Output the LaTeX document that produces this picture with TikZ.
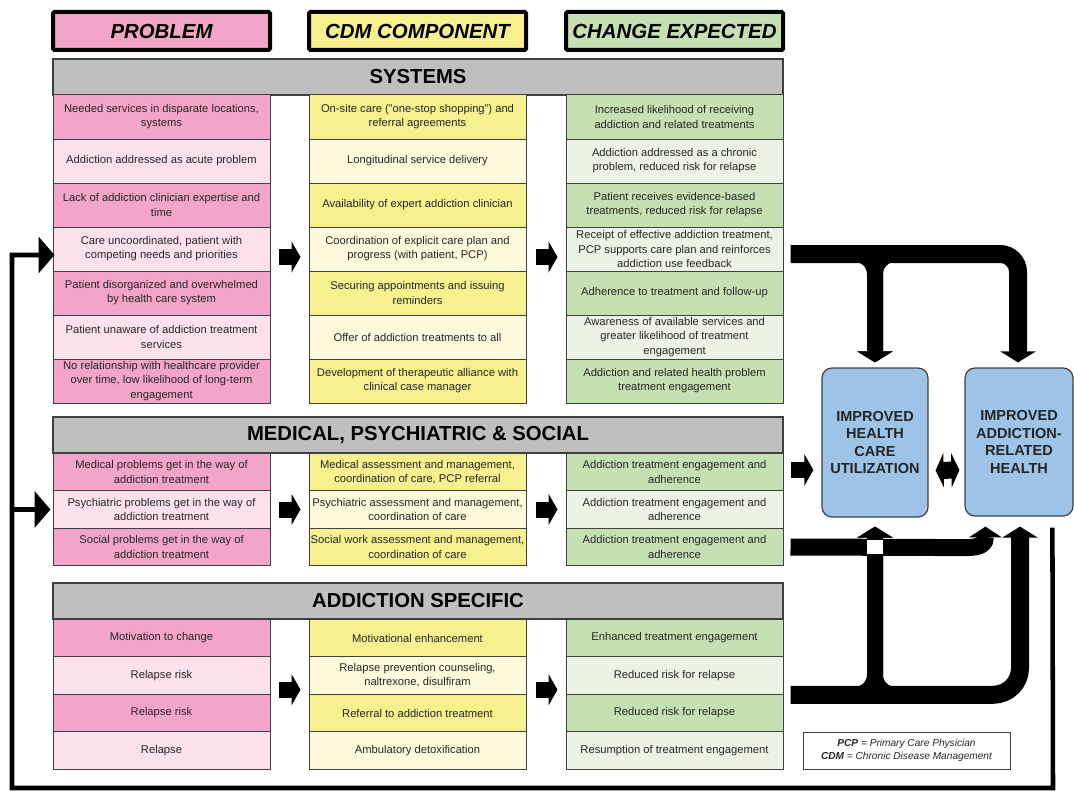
\documentclass[tikz,border=0pt]{standalone}
\usepackage{fontspec}
\setmainfont{Liberation Sans}
\usetikzlibrary{arrows.meta,calc}
\definecolor{pinkD}{HTML}{F2A5C8}
\definecolor{pinkL}{HTML}{FCE1ED}
\definecolor{yelD}{HTML}{F6F18E}
\definecolor{yelL}{HTML}{FDFBDB}
\definecolor{grnD}{HTML}{C5E0B3}
\definecolor{grnL}{HTML}{EBF4E4}
\definecolor{barGray}{HTML}{BFBFBF}
\definecolor{boxBlue}{HTML}{9DC3E6}
\definecolor{lineGray}{HTML}{404040}
\definecolor{txt}{HTML}{262626}
\begin{document}
\begin{tikzpicture}[x=0.75pt,y=-0.75pt,
  cell/.style={draw=lineGray, line width=0.75pt, minimum width=162.75pt, inner sep=1pt,
    align=center, text=txt, font=\fontsize{8.4}{10.6}\selectfont},
  srow/.style={cell, minimum height=33pt},
  mrow/.style={cell, minimum height=28.25pt},
  arow/.style={cell, minimum height=28.125pt},
  hdr/.style={draw=black, line width=3pt, minimum width=162.75pt, minimum height=28.5pt,
    rounded corners=1pt, font=\fontsize{15.3}{18}\selectfont\bfseries\itshape},
  bar/.style={draw=lineGray, line width=0.9pt, fill=barGray, minimum width=547.5pt,
    minimum height=27pt, font=\fontsize{15.2}{18}\selectfont\bfseries},
  bluebox/.style={draw=lineGray, line width=0.9pt, fill=boxBlue, rounded corners=7.5pt,
    align=center, font=\fontsize{10.9}{13.2}\selectfont\bfseries, text=txt},
  blk/.style={line width=12pt, -{Triangle[width=23.25pt,length=6.75pt]}},
  big/.style={line width=13.5pt, -{Triangle[width=26.25pt,length=8.25pt]}},
  branch/.style={line width=12pt, -{Triangle[width=26.25pt,length=8.25pt]}},
  fbline/.style={line width=3.4pt, -{Triangle[width=27pt,length=12pt]}}
]
\useasboundingbox (0,0) rectangle (1074,792);

% headers
\node[hdr, fill=pinkD] (hp) at (161.5,31) {PROBLEM};
\node[hdr, fill=yelD] (hc) at (417.5,31) {CDM COMPONENT};
\node[hdr, fill=grnD] (he) at (674.5,31) {CHANGE EXPECTED};

% SYSTEMS
\node[bar] (sysbar) at (418,77) {SYSTEMS};
\node[srow, fill=pinkD] (s1p) at (161.5,117) {Needed services in disparate locations,\\systems};
\node[srow, fill=pinkL] (s2p) at (161.5,161) {Addiction addressed as acute problem};
\node[srow, fill=pinkD] (s3p) at (161.5,205) {Lack of addiction clinician expertise and\\time};
\node[srow, fill=pinkL] (s4p) at (161.5,249) {Care uncoordinated, patient with\\competing needs and priorities};
\node[srow, fill=pinkD] (s5p) at (161.5,293) {Patient disorganized and overwhelmed\\by health care system};
\node[srow, fill=pinkL] (s6p) at (161.5,337) {Patient unaware of addiction treatment\\services};
\node[srow, fill=pinkD] (s7p) at (161.5,381) {No relationship with healthcare provider\\over time, low likelihood of long-term\\engagement};

\node[srow, fill=yelD] (s1c) at (417.5,117) {On-site care ("one-stop shopping") and\\referral agreements};
\node[srow, fill=yelL] (s2c) at (417.5,161) {Longitudinal service delivery};
\node[srow, fill=yelD] (s3c) at (417.5,205) {Availability of expert addiction clinician};
\node[srow, fill=yelL] (s4c) at (417.5,249) {Coordination of explicit care plan and\\progress (with patient, PCP)};
\node[srow, fill=yelD] (s5c) at (417.5,293) {Securing appointments and issuing\\reminders};
\node[srow, fill=yelL] (s6c) at (417.5,337) {Offer of addiction treatments to all};
\node[srow, fill=yelD] (s7c) at (417.5,381) {Development of therapeutic alliance with\\clinical case manager};

\node[srow, fill=grnD] (s1e) at (674.5,117) {Increased likelihood of receiving\\addiction and related treatments};
\node[srow, fill=grnL] (s2e) at (674.5,161) {Addiction addressed as a chronic\\problem, reduced risk for relapse};
\node[srow, fill=grnD] (s3e) at (674.5,205) {Patient receives evidence-based\\treatments, reduced risk for relapse};
\node[srow, fill=grnL] (s4e) at (674.5,249) {Receipt of effective addiction treatment,\\PCP supports care plan and reinforces\\addiction use feedback};
\node[srow, fill=grnD] (s5e) at (674.5,293) {Adherence to treatment and follow-up};
\node[srow, fill=grnL] (s6e) at (674.5,337) {Awareness of available services and\\greater likelihood of treatment\\engagement};
\node[srow, fill=grnD] (s7e) at (674.5,381) {Addiction and related health problem\\treatment engagement};

% MEDICAL
\node[bar] (medbar) at (418,435) {MEDICAL, PSYCHIATRIC \& SOCIAL};
\node[mrow, fill=pinkD] (m1p) at (161.5,472) {Medical problems get in the way of\\addiction treatment};
\node[mrow, fill=pinkL] (m2p) at (161.5,509.5) {Psychiatric problems get in the way of\\addiction treatment};
\node[mrow, fill=pinkD] (m3p) at (161.5,547) {Social problems get in the way of\\addiction treatment};
\node[mrow, fill=yelD] (m1c) at (417.5,472) {Medical assessment and management,\\coordination of care, PCP referral};
\node[mrow, fill=yelL] (m2c) at (417.5,509.5) {Psychiatric assessment and management,\\coordination of care};
\node[mrow, fill=yelD] (m3c) at (417.5,547) {Social work assessment and management,\\coordination of care};
\node[mrow, fill=grnD] (m1e) at (674.5,472) {Addiction treatment engagement and\\adherence};
\node[mrow, fill=grnL] (m2e) at (674.5,509.5) {Addiction treatment engagement and\\adherence};
\node[mrow, fill=grnD] (m3e) at (674.5,547) {Addiction treatment engagement and\\adherence};

% ADDICTION SPECIFIC
\node[bar] (addbar) at (418,601) {ADDICTION SPECIFIC};
\node[arow, fill=pinkD] (a1p) at (161.5,638) {Motivation to change};
\node[arow, fill=pinkL] (a2p) at (161.5,675.5) {Relapse risk};
\node[arow, fill=pinkD] (a3p) at (161.5,713) {Relapse risk};
\node[arow, fill=pinkL] (a4p) at (161.5,750.5) {Relapse};
\node[arow, fill=yelD] (a1c) at (417.5,638) {Motivational enhancement};
\node[arow, fill=yelL] (a2c) at (417.5,675.5) {Relapse prevention counseling,\\naltrexone, disulfiram};
\node[arow, fill=yelD] (a3c) at (417.5,713) {Referral to addiction treatment};
\node[arow, fill=yelL] (a4c) at (417.5,750.5) {Ambulatory detoxification};
\node[arow, fill=grnD] (a1e) at (674.5,638) {Enhanced treatment engagement};
\node[arow, fill=grnL] (a2e) at (674.5,675.5) {Reduced risk for relapse};
\node[arow, fill=grnD] (a3e) at (674.5,713) {Reduced risk for relapse};
\node[arow, fill=grnL] (a4e) at (674.5,750.5) {Resumption of treatment engagement};

% outcome boxes
\node[bluebox, minimum width=79.5pt, minimum height=111.75pt] (hcu) at (875,442.5) {IMPROVED\\HEALTH\\CARE\\UTILIZATION};
\node[bluebox, minimum width=81pt, minimum height=111pt] (arh) at (1019,442) {IMPROVED\\ADDICTION-\\RELATED\\HEALTH};

% legend
\node[draw=lineGray, line width=0.75pt, minimum width=155.25pt, minimum height=27.75pt, align=center,
  text=txt, font=\fontsize{7.6}{9.3}\selectfont\itshape] (leg) at (906.5,750.5)
  {\textbf{PCP} = Primary Care Physician\\\textbf{CDM} = Chronic Disease Management};

% block arrows between columns
\draw[blk] ($(s4p.east)+(8,8)$) -- ($(s4c.west)+(-8,8)$);
\draw[blk] ($(s4c.east)+(9,8)$) -- ($(s4e.west)+(-8,8)$);
\draw[blk] ($(m2p.east)+(8,0)$) -- ($(m2c.west)+(-8,0)$);
\draw[blk] ($(m2c.east)+(9,0)$) -- ($(m2e.west)+(-8,0)$);
\draw[blk] ($(a2p.south east)+(8,-5)$) -- ($(a2c.south west)+(-8,-5)$);
\draw[blk] ($(a2c.south east)+(9,-5)$) -- ($(a2e.south west)+(-8,-5)$);
\draw[blk] ($(m1e.east)+(7,-2)$) -- ($(m1e.east -| hcu.west)+(-8,-2)$);
\draw[line width=12.75pt, {Triangle[width=25.5pt,length=6pt]}-{Triangle[width=25.5pt,length=6pt]}]
  ($(hcu.east)+(7,28)$) -- ($(arh.west)+(-5,28)$);

% top T connector
\draw[big, rounded corners=13.5pt] ($(s4e.east)+(7,5)$) -| ($(arh.north)+(-1,-5)$);
\draw[branch, rounded corners=15pt] ($(s4e.east)+(60,5)$) -| ($(hcu.north)+(0,-5)$);
\draw[branch, rounded corners=15pt] ($(s4e.east)+(130,5)$) -| ($(hcu.north)+(0,-5)$);

% bottom connectors
\draw[big, rounded corners=20pt] ($(a2e.south east)+(7,0)$) -| ($(arh.south)+(1,10)$);
\draw[branch, rounded corners=15pt] ($(a2e.south east)+(60,0)$) -| ($(hcu.south)+(0,9)$);
\draw[branch, rounded corners=15pt] ($(a2e.south east)+(130,0)$) -| ($(hcu.south)+(0,9)$);
\coordinate (ub) at ($(arh.south west)+(21,10)$);
\draw[line width=12.75pt, -{Triangle[width=24pt,length=8pt]}] ($(m3e.east)+(7,0)$) -- ($(ub)+(-20,21)$)
  .. controls ($(ub)+(-4,21)$) and ($(ub)+(0,17)$) .. (ub);
\fill[white] (867,540) rectangle (883,554);

% feedback line
\coordinate (fbs) at ($(arh.south west)+(88,11)$);
\draw[fbline] (fbs) -- (1053,788) -- (12,788) -- (12,255) -- ($(s4p.west)+(2,6)$);
\draw[fbline] (12,509.5) -- ($(m2p.west)+(-2,0)$);
\end{tikzpicture}
\end{document}
